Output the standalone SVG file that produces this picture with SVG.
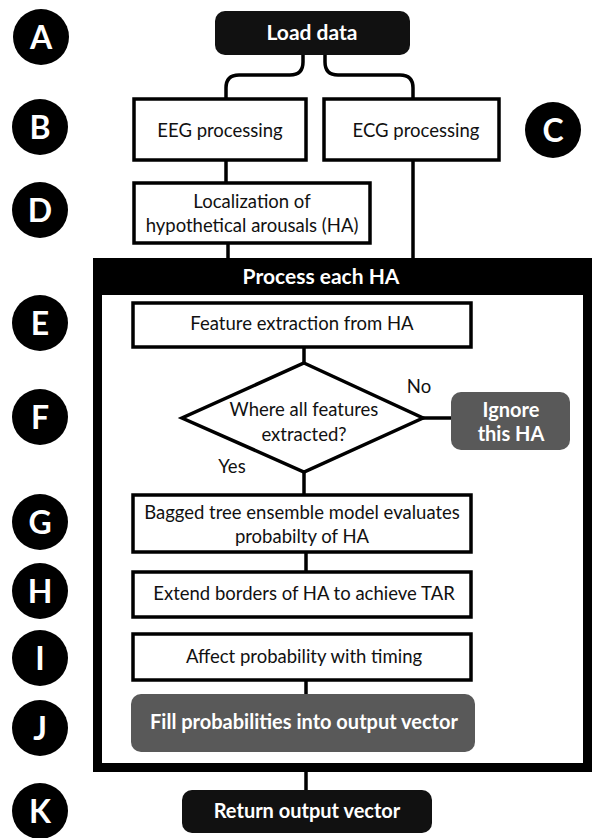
<svg xmlns="http://www.w3.org/2000/svg" width="593" height="838" viewBox="0 0 593 838">
<style>
  .lbl circle { fill: #000; }
  .lbl text { fill: #fff; font-family: Lato, "Open Sans", sans-serif; font-weight: bold; font-size: 32px; text-anchor: middle; }
  .box { fill: #fff; stroke: #000; stroke-width: 3.5; }
  .dark { fill: #111; }
  .gray { fill: #595959; }
  .t { font-family: Lato, "Open Sans", sans-serif; font-size: 18.5px; fill: #111; text-anchor: middle; }
  .tb { font-family: Lato, "Open Sans", sans-serif; font-size: 20px; font-weight: bold; fill: #fff; text-anchor: middle; }
  .big { font-size: 21px; }
  .conn path, .conn line { fill: none; stroke: #000; stroke-width: 3.5; }
</style>

<!-- letter labels -->
<g class="lbl" id="label-A"><circle cx="41" cy="37" r="28"/><text x="41" y="48.5">A</text></g>
<g class="lbl" id="label-B"><circle cx="40" cy="127" r="28"/><text x="40" y="138.5">B</text></g>
<g class="lbl" id="label-C"><circle cx="553" cy="130" r="28"/><text x="553" y="141.5">C</text></g>
<g class="lbl" id="label-D"><circle cx="40" cy="210" r="28"/><text x="40" y="221.5">D</text></g>
<g class="lbl" id="label-E"><circle cx="40" cy="323" r="28"/><text x="40" y="334.5">E</text></g>
<g class="lbl" id="label-F"><circle cx="40" cy="417" r="28"/><text x="40" y="428.5">F</text></g>
<g class="lbl" id="label-G"><circle cx="40" cy="522" r="28"/><text x="40" y="533.5">G</text></g>
<g class="lbl" id="label-H"><circle cx="40" cy="591" r="28"/><text x="40" y="602.5">H</text></g>
<g class="lbl" id="label-I"><circle cx="40" cy="658" r="28"/><text x="40" y="669.5">I</text></g>
<g class="lbl" id="label-J"><circle cx="40" cy="728" r="28"/><text x="40" y="739.5">J</text></g>
<g class="lbl" id="label-K"><circle cx="40" cy="811" r="28"/><text x="40" y="822.5">K</text></g>

<!-- process frame -->
<g id="process-each-ha">
  <rect x="97.5" y="262.5" width="490" height="505" fill="none" stroke="#000" stroke-width="9"/>
  <rect x="93" y="258" width="499" height="37" fill="#000"/>
  <text class="tb big" x="321" y="284">Process each HA</text>
</g>

<!-- connectors -->
<g class="conn" id="connectors">
  <path d="M303,55 V62 Q303,75 290,75 H239 Q226,75 226,88 V98"/>
  <path d="M325,55 V62 Q325,75 338,75 H400 Q413,75 413,88 V98"/>
  <line x1="226" y1="160" x2="226" y2="182"/>
  <line x1="228" y1="243" x2="228" y2="258"/>
  <line x1="413" y1="160" x2="413" y2="258"/>
  <line x1="304" y1="347" x2="304" y2="363"/>
  <line x1="423" y1="418" x2="451" y2="418"/>
  <line x1="304" y1="472" x2="304" y2="494"/>
  <line x1="306" y1="552" x2="306" y2="571"/>
  <line x1="306" y1="680" x2="306" y2="694"/>
  <line x1="306" y1="772" x2="306" y2="790"/>
</g>

<!-- nodes -->
<g id="load-data">
  <rect class="dark" x="215" y="11" width="195" height="44" rx="10"/>
  <text class="tb big" x="312" y="40">Load data</text>
</g>
<g id="eeg-processing">
  <rect class="box" x="134" y="99" width="172" height="61"/>
  <text class="t" x="220" y="137">EEG processing</text>
</g>
<g id="ecg-processing">
  <rect class="box" x="324" y="99" width="175" height="61"/>
  <text class="t" x="416" y="137">ECG processing</text>
</g>
<g id="localization">
  <rect class="box" x="134" y="183" width="236" height="60"/>
  <text class="t" x="252" y="208">Localization of</text>
  <text class="t" x="252" y="232">hypothetical arousals (HA)</text>
</g>
<g id="feature-extraction">
  <rect class="box" x="133" y="303" width="338" height="44"/>
  <text class="t" x="302" y="330">Feature extraction from HA</text>
</g>
<g id="features-decision">
  <polygon class="box" points="304,363 423,418 304,472 182,418"/>
  <text class="t" x="304" y="416">Where all features</text>
  <text class="t" x="304" y="441">extracted?</text>
  <text class="t" x="419" y="393">No</text>
  <text class="t" x="232" y="473">Yes</text>
</g>
<g id="ignore-ha">
  <rect class="gray" x="451" y="392" width="119" height="58" rx="10"/>
  <text class="tb" x="511" y="417">Ignore</text>
  <text class="tb" x="511" y="441">this HA</text>
</g>
<g id="bagged-tree">
  <rect class="box" x="133" y="495" width="338" height="57"/>
  <text class="t" x="302" y="519">Bagged tree ensemble model evaluates</text>
  <text class="t" x="302" y="543">probabilty of HA</text>
</g>
<g id="extend-borders">
  <rect class="box" x="133" y="572" width="338" height="45"/>
  <text class="t" x="304" y="600">Extend borders of HA to achieve TAR</text>
</g>
<g id="affect-probability">
  <rect class="box" x="133" y="634" width="338" height="46"/>
  <text class="t" x="304" y="663">Affect probability with timing</text>
</g>
<g id="fill-probabilities">
  <rect class="gray" x="131" y="694" width="344" height="58" rx="10"/>
  <text class="tb" x="304" y="729">Fill probabilities into output vector</text>
</g>
<g id="return-output">
  <rect class="dark" x="182" y="790" width="250" height="43" rx="10"/>
  <text class="tb" x="307" y="818">Return output vector</text>
</g>
</svg>
